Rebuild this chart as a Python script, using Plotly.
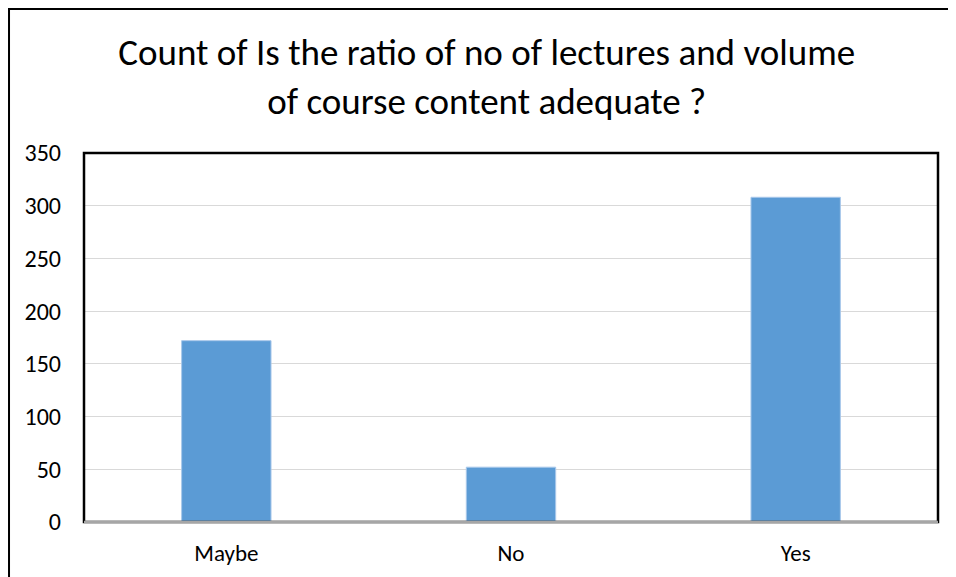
import plotly.graph_objects as go

categories = ["Maybe", "No", "Yes"]
counts = [172, 52, 308]
y_ticks = [0, 50, 100, 150, 200, 250, 300, 350]

title_text = "Count of Is the ratio of no of lectures and volume<br>of course content adequate ?"

fig = go.Figure(
    go.Bar(
        x=categories,
        y=counts,
        marker=dict(color="#5B9BD5", line=dict(color="#A9C8EA", width=1)),
        hoverinfo="x+y",
    )
)

# page body adds an 8px offset, so the figure is sized 948x569
fig.update_layout(
    width=948,
    height=569,
    margin=dict(l=76, r=18, t=145, b=55),
    paper_bgcolor="white",
    plot_bgcolor="white",
    font=dict(family="Carlito, Calibri, Lato, sans-serif", size=21, color="black"),
    title=dict(
        text=title_text,
        x=0.505,
        xanchor="center",
        y=0.899,
        yanchor="middle",
        font=dict(size=37, color="black"),
    ),
    bargap=0.686,
    showlegend=False,
    xaxis=dict(
        showgrid=False,
        showline=False,
        zeroline=False,
        ticks="",
        tickfont=dict(size=23),
        ticklabelstandoff=15,
        automargin=False,
    ),
    yaxis=dict(
        range=[0, 350],
        tickvals=y_ticks,
        showgrid=True,
        gridcolor="#D9D9D9",
        gridwidth=1,
        zeroline=False,
        showline=False,
        ticks="",
        tickfont=dict(size=24),
        ticklabelstandoff=22,
        automargin=False,
    ),
    shapes=[
        # outer chart border
        dict(type="rect", xref="paper", yref="paper", x0=-0.0878, x1=1.2, y0=-0.3, y1=1.3902,
             line=dict(color="black", width=2), layer="above"),
        # plot area frame
        dict(type="rect", xref="paper", yref="paper", x0=0, x1=1, y0=0, y1=1,
             line=dict(color="black", width=2.5), layer="above"),
        # grey category axis
        dict(type="line", xref="paper", yref="paper", x0=0, x1=1, y0=0, y1=0,
             line=dict(color="#A6A6A6", width=2.5), layer="above"),
    ],
)

fig.write_html("out.html")
